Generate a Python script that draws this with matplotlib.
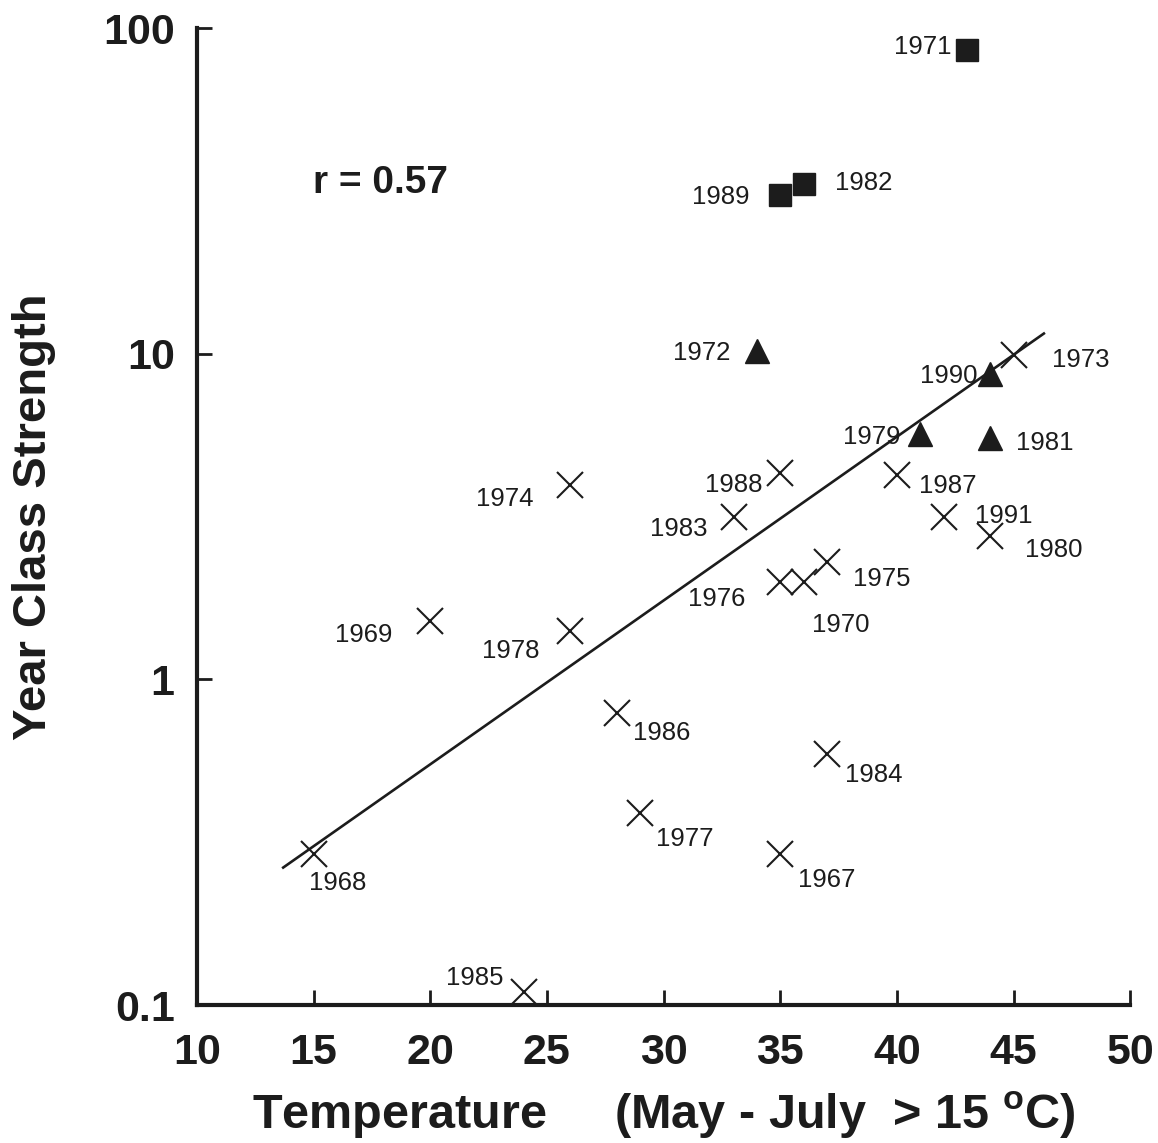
import numpy as np
import matplotlib
matplotlib.use("Agg")
import matplotlib.pyplot as plt

plt.rcParams['font.family'] = ['Liberation Sans', 'DejaVu Sans']
plt.rcParams['mathtext.fontset'] = 'custom'
plt.rcParams['mathtext.rm'] = 'Liberation Sans:bold'
plt.rcParams['mathtext.bf'] = 'Liberation Sans:bold'

ink = '#1c1c1c'

# --- data ---
# crosses
cross_years = [1967, 1968, 1969, 1970, 1973, 1974, 1975, 1976, 1977, 1978,
               1980, 1983, 1984, 1985, 1986, 1987, 1988, 1991]
cross_temp = [35, 15, 20, 36, 45, 26, 37, 35, 29, 26,
              44, 33, 37, 24, 28, 40, 35, 42]
cross_ycs = [0.29, 0.29, 1.51, 1.99, 9.9, 3.95, 2.29, 1.99, 0.39, 1.41,
             2.75, 3.15, 0.59, 0.11, 0.79, 4.24, 4.3, 3.15]

# filled triangles
tri_years = [1972, 1979, 1981, 1990]
tri_temp = [34, 41, 44, 44]
tri_ycs = [10.2, 5.67, 5.5, 8.68]

# filled squares
sq_years = [1971, 1982, 1989]
sq_temp = [43, 36, 35]
sq_ycs = [85.5, 33.3, 30.6]

# regression line log10(y) = a + b*x
fit_a = -1.267
fit_b = 0.0503
fit_x = [13.7, 46.3]
r_value = 0.57

x_ticks = [10, 15, 20, 25, 30, 35, 40, 45, 50]
y_ticks = [0.1, 1, 10, 100]
y_ticklabels = ['0.1', '1', '10', '100']

# label offsets in pixels (dx, dy, ha)
label_pos = {
    1971: (-15, 3, 'right'), 1989: (-31, -2, 'right'), 1982: (31, 1, 'left'),
    1972: (-26, -2, 'right'), 1990: (-13, -2, 'right'), 1979: (-20, -3, 'right'),
    1981: (26, -5, 'left'), 1973: (38, -5, 'left'), 1988: (-18, -12, 'right'),
    1987: (22, -11, 'left'), 1983: (-26, -12, 'right'), 1991: (31, 1, 'left'),
    1980: (35, -14, 'left'), 1974: (-37, -14, 'right'), 1975: (26, -17, 'left'),
    1976: (-35, -17, 'right'), 1970: (8, -43, 'left'), 1969: (-38, -14, 'right'),
    1978: (-31, -20, 'right'), 1986: (16, -20, 'left'), 1984: (18, -21, 'left'),
    1977: (16, -26, 'left'), 1967: (18, -26, 'left'), 1968: (-5, -29, 'left'),
    1985: (-20, 14, 'right'),
}

fig = plt.figure(figsize=(11.58, 11.43), dpi=100)
ax = fig.add_axes([0.170, 0.1207, 0.806, 0.8548])

ax.set_yscale('log')
ax.set_xlim(10, 50)
ax.set_ylim(0.1, 100)

xl = np.array(fit_x)
ax.plot(xl, 10 ** (fit_a + fit_b * xl), color=ink, lw=1.9, zorder=2)

ax.plot(cross_temp, cross_ycs, ls='none', marker='x', ms=19, mew=1.5,
        color=ink, zorder=3)
ax.plot(tri_temp, tri_ycs, ls='none', marker='^', ms=17, color=ink, zorder=3)
ax.plot(sq_temp, sq_ycs, ls='none', marker='s', ms=15.5, color=ink, zorder=3)

for yrs, xs, ys in [(cross_years, cross_temp, cross_ycs),
                    (tri_years, tri_temp, tri_ycs),
                    (sq_years, sq_temp, sq_ycs)]:
    for yr, x, y in zip(yrs, xs, ys):
        dx, dy, ha = label_pos[yr]
        ax.annotate(str(yr), (x, y), xytext=(dx, dy), textcoords='offset pixels',
                    ha=ha, va='center', fontsize=18.5, color=ink, zorder=4)

ax.text(0.124, 0.841, 'r = %.2f' % r_value, transform=ax.transAxes,
        fontsize=28, fontweight='bold', color=ink, va='center', ha='left')

for s in ['top', 'right']:
    ax.spines[s].set_visible(False)
for s in ['left', 'bottom']:
    ax.spines[s].set_linewidth(3)
    ax.spines[s].set_color(ink)

ax.set_xticks(x_ticks)
ax.set_xticklabels([str(t) for t in x_ticks])
ax.set_yticks(y_ticks)
ax.set_yticklabels(y_ticklabels)
ax.minorticks_off()
ax.tick_params(axis='both', direction='in', length=11, width=2, color=ink,
               labelsize=31, labelcolor=ink)
ax.tick_params(axis='x', pad=20)
ax.tick_params(axis='y', pad=16)
for lab in ax.get_xticklabels() + ax.get_yticklabels():
    lab.set_fontweight('bold')

ax.set_ylabel('Year Class Strength', fontsize=34, fontweight='bold',
              color=ink, labelpad=34)
ax.set_xlabel('Temperature     (May - July  > 15 $^{\\mathbf{o}}$C)',
              fontsize=35, fontweight='bold', color=ink, labelpad=12)

fig.savefig('out.png', dpi=100, facecolor='white')
